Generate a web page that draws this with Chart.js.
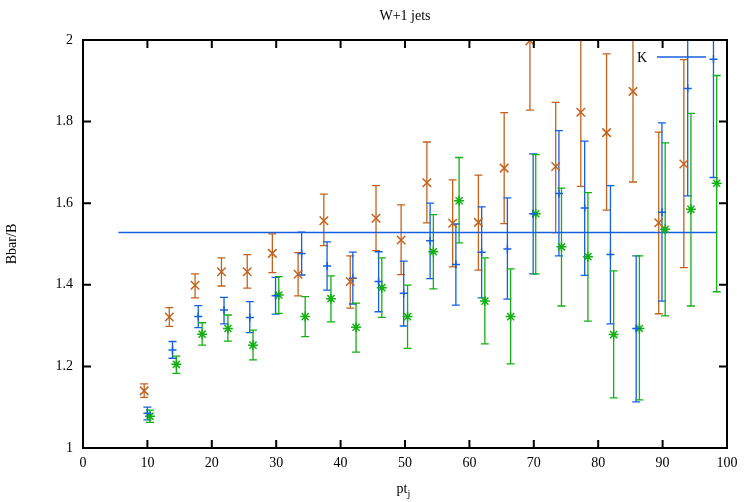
<!DOCTYPE html>
<html>
<head>
<meta charset="utf-8">
<script src="https://cdn.jsdelivr.net/npm/chart.js@4"></script>
<style>
  html, body { margin: 0; padding: 0; background: #fff; }
  #wrap { width: 745px; height: 502px; }
</style>
</head>
<body>
<div id="wrap"><canvas id="chart" width="745" height="502"></canvas></div>
<script>
// ------------------------
// DATA
// ------------------------
const xTicks = [0, 10, 20, 30, 40, 50, 60, 70, 80, 90, 100];
const yTicks = [1, 1.2, 1.4, 1.6, 1.8, 2];

// orange (x markers)
const orangeX  = [9.5, 13.4, 17.4, 21.5, 25.5, 29.4, 33.4, 37.4, 41.5, 45.5, 49.4, 53.4, 57.4, 61.4, 65.4, 69.4, 73.4, 77.3, 81.3, 85.4, 89.4, 93.3];
const orangeY  = [1.140, 1.321, 1.399, 1.432, 1.432, 1.477, 1.426, 1.557, 1.408, 1.563, 1.510, 1.650, 1.551, 1.553, 1.686, 1.998, 1.690, 1.823, 1.773, 1.874, 1.552, 1.696];
const orangeLo = [1.124, 1.298, 1.368, 1.397, 1.392, 1.430, 1.373, 1.496, 1.343, 1.484, 1.425, 1.552, 1.444, 1.436, 1.550, 1.828, 1.528, 1.641, 1.583, 1.652, 1.329, 1.442];
const orangeHi = [1.157, 1.344, 1.427, 1.466, 1.474, 1.525, 1.479, 1.622, 1.471, 1.643, 1.596, 1.750, 1.657, 1.669, 1.822, 2.170, 1.847, 2.005, 1.966, 2.096, 1.774, 1.952];

// blue (+ markers)
const blueX  = [10.0, 13.9, 17.9, 21.9, 25.9, 29.9, 33.95, 37.9, 41.9, 45.9, 49.8, 53.9, 57.9, 61.9, 65.9, 69.9, 73.9, 77.9, 81.9, 85.9, 89.9, 93.9, 97.9];
const blueY  = [1.085, 1.240, 1.322, 1.338, 1.320, 1.373, 1.477, 1.446, 1.416, 1.408, 1.379, 1.508, 1.450, 1.480, 1.488, 1.574, 1.624, 1.588, 1.474, 1.293, 1.578, 1.881, 1.953];
const blueLo = [1.069, 1.220, 1.295, 1.304, 1.283, 1.328, 1.424, 1.387, 1.353, 1.334, 1.299, 1.415, 1.350, 1.368, 1.365, 1.427, 1.471, 1.423, 1.304, 1.113, 1.360, 1.618, 1.663];
const blueHi = [1.100, 1.261, 1.349, 1.369, 1.359, 1.418, 1.529, 1.505, 1.480, 1.481, 1.458, 1.600, 1.549, 1.591, 1.613, 1.721, 1.778, 1.752, 1.643, 1.471, 1.797, 2.140, 2.240];

// green (* markers)
const greenX  = [10.4, 14.5, 18.5, 22.5, 26.4, 30.4, 34.5, 38.5, 42.4, 46.4, 50.4, 54.4, 58.4, 62.4, 66.4, 70.3, 74.3, 78.4, 82.4, 86.4, 90.4, 94.4, 98.4];
const greenY  = [1.078, 1.205, 1.279, 1.293, 1.252, 1.375, 1.322, 1.366, 1.296, 1.393, 1.322, 1.481, 1.606, 1.360, 1.322, 1.574, 1.493, 1.469, 1.278, 1.293, 1.536, 1.585, 1.649];
const greenLo = [1.063, 1.183, 1.252, 1.262, 1.216, 1.330, 1.273, 1.309, 1.235, 1.320, 1.244, 1.390, 1.503, 1.255, 1.206, 1.427, 1.348, 1.311, 1.123, 1.118, 1.324, 1.348, 1.383];
const greenHi = [1.093, 1.225, 1.307, 1.326, 1.289, 1.420, 1.371, 1.422, 1.355, 1.466, 1.399, 1.572, 1.712, 1.466, 1.439, 1.719, 1.637, 1.626, 1.434, 1.471, 1.748, 1.820, 1.913];

// K line
const kX = [5.5, 98.3];
const kValue = 1.528;

const ORANGE = "#c4621c";
const BLUE = "#1560e0";
const GREEN = "#12b012";
const FONT = "'Liberation Serif', 'DejaVu Serif', serif";

function pts(xs, ys) {
  return xs.map((x, i) => ({ x, y: ys[i] }));
}

const errorSets = [
  { xs: orangeX, lo: orangeLo, hi: orangeHi, color: ORANGE },
  { xs: blueX, lo: blueLo, hi: blueHi, color: BLUE },
  { xs: greenX, lo: greenLo, hi: greenHi, color: GREEN }
];

// ------------------------
// PLUGINS
// ------------------------
const errorBars = {
  id: "errorBars",
  beforeDatasetsDraw(chart) {
    const { ctx, chartArea: a, scales: { x, y } } = chart;
    ctx.save();
    ctx.beginPath();
    ctx.rect(a.left, a.top, a.right - a.left, a.bottom - a.top);
    ctx.clip();
    ctx.lineWidth = 1.3;
    errorSets.forEach(s => {
      ctx.strokeStyle = s.color;
      s.xs.forEach((xv, i) => {
        const px = x.getPixelForValue(xv);
        const p1 = y.getPixelForValue(s.lo[i]);
        const p2 = y.getPixelForValue(s.hi[i]);
        ctx.beginPath();
        ctx.moveTo(px, p1); ctx.lineTo(px, p2);
        ctx.moveTo(px - 4, p1); ctx.lineTo(px + 4, p1);
        ctx.moveTo(px - 4, p2); ctx.lineTo(px + 4, p2);
        ctx.stroke();
      });
    });
    ctx.restore();
  }
};

const frame = {
  id: "frame",
  afterDraw(chart) {
    const { ctx, chartArea: a, scales: { x, y } } = chart;
    ctx.save();
    ctx.strokeStyle = "#000";
    ctx.lineWidth = 2;
    ctx.strokeRect(a.left, a.top, a.right - a.left, a.bottom - a.top);
    ctx.beginPath();
    xTicks.forEach(v => {
      const px = x.getPixelForValue(v);
      ctx.moveTo(px, a.bottom); ctx.lineTo(px, a.bottom - 8);
      ctx.moveTo(px, a.top); ctx.lineTo(px, a.top + 8);
    });
    yTicks.forEach(v => {
      const py = y.getPixelForValue(v);
      ctx.moveTo(a.left, py); ctx.lineTo(a.left + 8, py);
      ctx.moveTo(a.right, py); ctx.lineTo(a.right - 8, py);
    });
    ctx.stroke();

    const cx = (a.left + a.right) / 2;
    ctx.fillStyle = "#000";
    ctx.textBaseline = "alphabetic";

    // title, centred over the plot area
    ctx.textAlign = "center";
    ctx.font = "14px " + FONT;
    ctx.fillText("W+1 jets", cx, 19.5);

    // x axis title pt_j
    ctx.textAlign = "left";
    const w = ctx.measureText("pt").width;
    ctx.fillText("pt", cx - w / 2 - 3, 493);
    ctx.font = "10px " + FONT;
    ctx.fillText("j", cx + w / 2 - 3, 497);

    // legend
    ctx.font = "14px " + FONT;
    ctx.textAlign = "right";
    ctx.textBaseline = "middle";
    ctx.fillText("K", 647, 58);
    ctx.strokeStyle = BLUE;
    ctx.lineWidth = 1.5;
    ctx.beginPath();
    ctx.moveTo(657, 57); ctx.lineTo(706, 57);
    ctx.stroke();
    ctx.restore();
  }
};

// ------------------------
// CHART
// ------------------------
const ctx = document.getElementById("chart").getContext("2d");

new Chart(ctx, {
  type: "scatter",
  data: {
    datasets: [
      {
        label: "orange",
        data: pts(orangeX, orangeY),
        pointStyle: "crossRot",
        pointRadius: 6,
        borderColor: ORANGE,
        backgroundColor: ORANGE,
        pointBorderWidth: 1.5
      },
      {
        label: "blue",
        data: pts(blueX, blueY),
        pointStyle: "cross",
        pointRadius: 4,
        borderColor: BLUE,
        backgroundColor: BLUE,
        pointBorderWidth: 1.5
      },
      {
        label: "green",
        data: pts(greenX, greenY),
        pointStyle: "star",
        pointRadius: 5,
        borderColor: GREEN,
        backgroundColor: GREEN,
        pointBorderWidth: 1.5
      },
      {
        label: "K",
        data: kX.map(x => ({ x, y: kValue })),
        showLine: true,
        pointRadius: 0,
        borderColor: BLUE,
        borderWidth: 1.5
      }
    ]
  },
  options: {
    responsive: false,
    animation: false,
    events: [],
    layout: { padding: { left: 0, right: 18, top: 40, bottom: 0 } },
    plugins: {
      legend: { display: false },
      tooltip: { enabled: false },
      title: { display: false }
    },
    scales: {
      x: {
        type: "linear",
        min: 0,
        max: 100,
        afterFit: s => { s.height = 54; },
        afterBuildTicks: s => { s.ticks = xTicks.map(v => ({ value: v })); },
        grid: { display: false, drawTicks: false },
        border: { display: false },
        ticks: {
          color: "#000",
          padding: 7,
          maxRotation: 0,
          font: { family: FONT, size: 14 },
          callback: v => String(v)
        }
      },
      y: {
        type: "linear",
        min: 1,
        max: 2,
        afterFit: s => { s.width = 83; },
        afterBuildTicks: s => { s.ticks = yTicks.map(v => ({ value: v })); },
        grid: { display: false, drawTicks: false },
        border: { display: false },
        title: {
          display: true,
          text: "Bbar/B",
          color: "#000",
          font: { family: FONT, size: 14 },
          padding: { top: 4, bottom: 0 }
        },
        ticks: {
          color: "#000",
          padding: 10,
          font: { family: FONT, size: 14 },
          callback: v => String(Math.round(v * 10) / 10)
        }
      }
    }
  },
  plugins: [errorBars, frame]
});
</script>
</body>
</html>
